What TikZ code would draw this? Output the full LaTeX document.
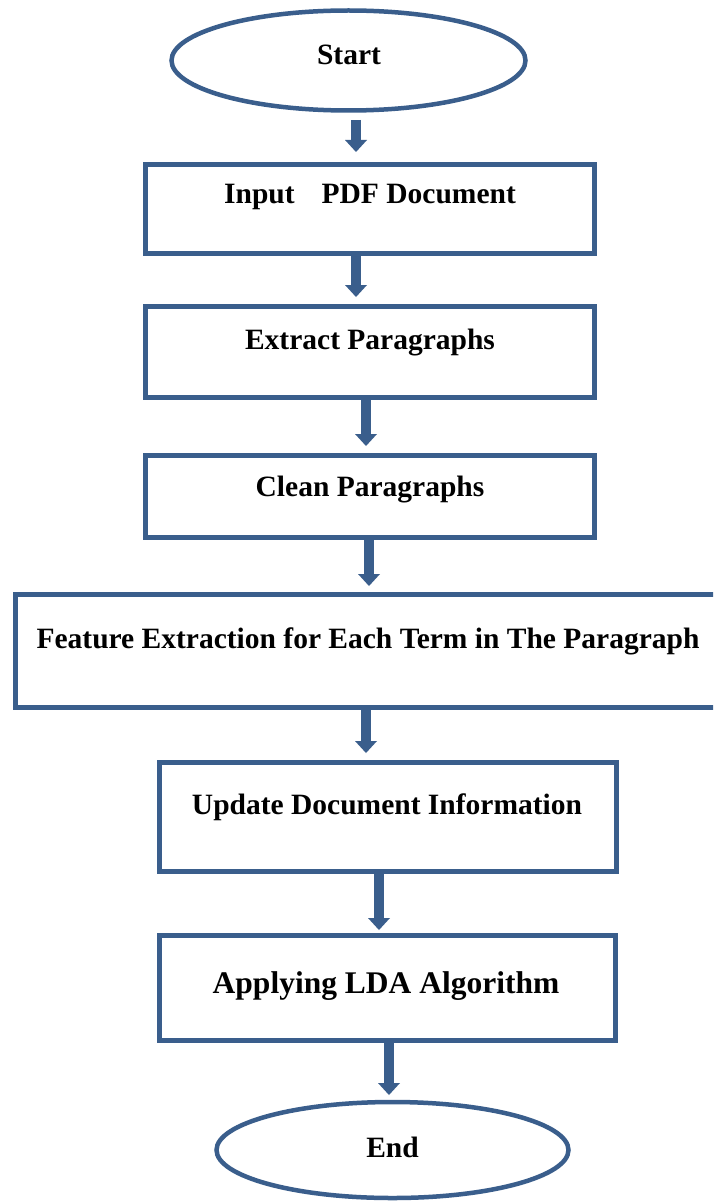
\documentclass[tikz,border=0pt]{standalone}
\usepackage{fontspec}
\setmainfont{Liberation Serif}
\usetikzlibrary{arrows.meta,shapes.geometric}
\definecolor{flowblue}{HTML}{3A5E8C}

\begin{document}
\begin{tikzpicture}[x=1pt,y=-1pt,
  stepbox/.style={draw=flowblue,line width=5pt,rectangle,inner sep=0pt,fill=white},
  terminal/.style={draw=flowblue,line width=4.5pt,ellipse,inner sep=0pt,fill=white},
  label text/.style={anchor=base,inner sep=0pt,font=\bfseries\fontsize{29.5}{32}\selectfont},
  big text/.style={label text,font=\bfseries\fontsize{31.5}{34}\selectfont},
  flowarrow/.style={draw=flowblue,line width=10pt,
    -{Triangle[width=22pt,length=12pt,line width=0pt]}}]
\clip (0,0) rectangle (713,1201);
\fill[white] (0,0) rectangle (713,1201);

% shapes of the flow
\node[terminal, minimum width=354pt, minimum height=100pt] (start) at (348.5,60.5) {};
\node[stepbox, minimum width=449pt, minimum height=89pt]  (input)   at (370,209) {};
\node[stepbox, minimum width=449pt, minimum height=91pt]  (extract) at (370,352) {};
\node[stepbox, minimum width=449pt, minimum height=82pt]  (clean)   at (370,496.5) {};
\node[stepbox, minimum width=705pt, minimum height=113pt] (feature) at (368,651) {};
\node[stepbox, minimum width=457pt, minimum height=109pt] (update)  at (388,817) {};
\node[stepbox, minimum width=456pt, minimum height=105pt] (lda)     at (387.5,988) {};
\node[terminal, minimum width=352pt, minimum height=96pt] (end) at (392.5,1150) {};

% labels
\node[label text] (tstart)   at (349,65)   {Start};
\node[label text] (tinput)   at (370,204)  {Input\hspace{27pt}PDF Document};
\node[label text] (textract) at (370,349)  {Extract Paragraphs};
\node[label text] (tclean)   at (370,496)  {Clean Paragraphs};
\node[label text] (tfeature) at (368,648)  {Feature Extraction for Each Term in The Paragraph};
\node[label text] (tupdate)  at (387,814)  {Update Document Information};
\node[big text]   (tlda)     at (386,993)  {Applying LDA Algorithm};
\node[label text] (tend)     at (392.5,1157) {End};

% connectors
\draw[flowarrow] ([xshift=7.5pt,yshift=-7.25pt]start.south) -- ([xshift=-14pt,yshift=10pt]input.north);
\draw[flowarrow] ([xshift=-14pt]input.south)  -- ([xshift=-14pt,yshift=7pt]extract.north);
\draw[flowarrow] ([xshift=-4pt]extract.south) -- ([xshift=-4pt,yshift=7pt]clean.north);
\draw[flowarrow] ([xshift=-1pt]clean.south)   -- ([xshift=1pt,yshift=6pt]feature.north);
\draw[flowarrow] ([xshift=-2pt]feature.south) -- ([xshift=-22pt,yshift=7pt]update.north);
\draw[flowarrow] ([xshift=-9pt]update.south)  -- ([xshift=-8.5pt,yshift=3pt]lda.north);
\draw[flowarrow] ([xshift=1.5pt]lda.south)    -- ([xshift=-3.5pt,yshift=4.75pt]end.north);
\end{tikzpicture}
\end{document}
